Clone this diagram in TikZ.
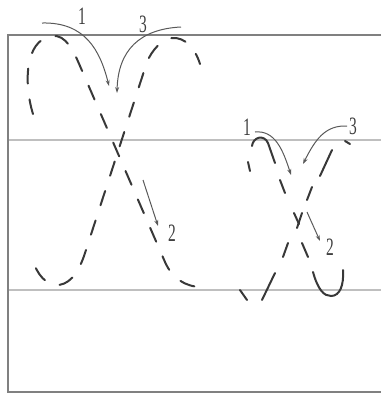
\documentclass[tikz,border=0pt]{standalone}
\usepackage{fontspec}
\setmainfont{Liberation Serif}
\usetikzlibrary{arrows.meta}
\begin{document}
\begin{tikzpicture}[x=1pt,y=-1pt,
  frameline/.style={draw=black!50,line width=1.8pt},
  guideline/.style={draw=black!25,line width=1.4pt},
  bigstroke/.style={draw=black!78,line width=2pt,dash pattern=on 15pt off 16pt,line cap=round},
  dashpiece/.style={draw=black!78,line width=2pt,line cap=round},
  hint/.style={draw=black!65,line width=1pt,-{Stealth[length=6pt,width=4pt]}},
  num/.style={inner sep=0pt,text=black!75,font=\fontsize{25}{25}\selectfont}]
\useasboundingbox (0,0) rectangle (381,397);
% frame
\coordinate (tl) at (8,35); \coordinate (tr) at (381,35);
\coordinate (bl) at (8,392); \coordinate (br) at (381,392);
\coordinate (m1l) at (8,140); \coordinate (m1r) at (381,140);
\coordinate (m2l) at (8,290); \coordinate (m2r) at (381,290);
\draw[guideline] (m1l) -- (m1r);
\draw[guideline] (m2l) -- (m2r);
\draw[frameline] (tr) -- (tl) -- (bl) -- (br);
% big X, stroke 1
\draw[bigstroke,dash phase=0pt] (33,114) .. controls (24,85) and (24,40) .. (52,36) .. controls (66,34) and (74,52) .. (80,66) -- (165,262) .. controls (172,278) and (185,287) .. (202,287);
% big X, stroke 3
\draw[bigstroke,dash phase=4pt] (200,64) .. controls (195,48) and (185,37) .. (172,38) .. controls (162,39) and (152,50) .. (147,62) -- (85,253) .. controls (78,275) and (68,286) .. (55,285) .. controls (42,283) and (34,268) .. (31,254);
% big X arrows
\coordinate (a1s) at (42,23); \coordinate (a1e) at (109,86);
\coordinate (a3s) at (181,27); \coordinate (a3e) at (117,93);
\coordinate (a2s) at (143,180); \coordinate (a2e) at (158,226);
\draw[hint] (a1s) .. controls (85,22) and (100,50) .. (a1e);
\draw[hint] (a3s) .. controls (140,29) and (118,50) .. (a3e);
\draw[hint] (a2s) -- (a2e);
\node[num] (n1) at (82,16) {\scalebox{0.62}[1]{1}};
\node[num] (n3) at (143,24) {\scalebox{0.62}[1]{3}};
\node[num] (n2) at (172,233) {\scalebox{0.62}[1]{2}};
% small x, stroke 1
\draw[dashpiece] (248,162) -- (250,171);
\draw[dashpiece] (252,146) .. controls (253,137) and (264,134) .. (268,143) -- (275,163);
\draw[dashpiece] (280,180) -- (285,193);
\draw[dashpiece] (294,213) -- (299,224);
\draw[dashpiece] (302,243) -- (308,257);
\draw[dashpiece] (313,272) .. controls (318,290) and (324,296) .. (331,296) .. controls (340,296) and (344,285) .. (343,270);
% small x, stroke 3
\draw[dashpiece] (345,141) -- (350,144);
\draw[dashpiece] (332,150) -- (320,176);
\draw[dashpiece] (312,187) -- (307,200);
\draw[dashpiece] (302,213) -- (297,228);
\draw[dashpiece] (288,243) -- (283,257);
\draw[dashpiece] (275,273) -- (262,300);
\draw[dashpiece] (247,300) -- (240,290);
% small x arrows
\coordinate (b1s) at (255,132); \coordinate (b1e) at (291,175);
\coordinate (b3s) at (347,126); \coordinate (b3e) at (303,164);
\coordinate (b2s) at (307,212); \coordinate (b2e) at (320,241);
\draw[hint] (b1s) .. controls (275,130) and (283,150) .. (b1e);
\draw[hint] (b3s) .. controls (325,125) and (315,140) .. (b3e);
\draw[hint] (b2s) -- (b2e);
\node[num] (m1) at (247,127) {\scalebox{0.62}[1]{1}};
\node[num] (m3) at (353,126) {\scalebox{0.62}[1]{3}};
\node[num] (m2) at (330,247) {\scalebox{0.62}[1]{2}};
\end{tikzpicture}
\end{document}
